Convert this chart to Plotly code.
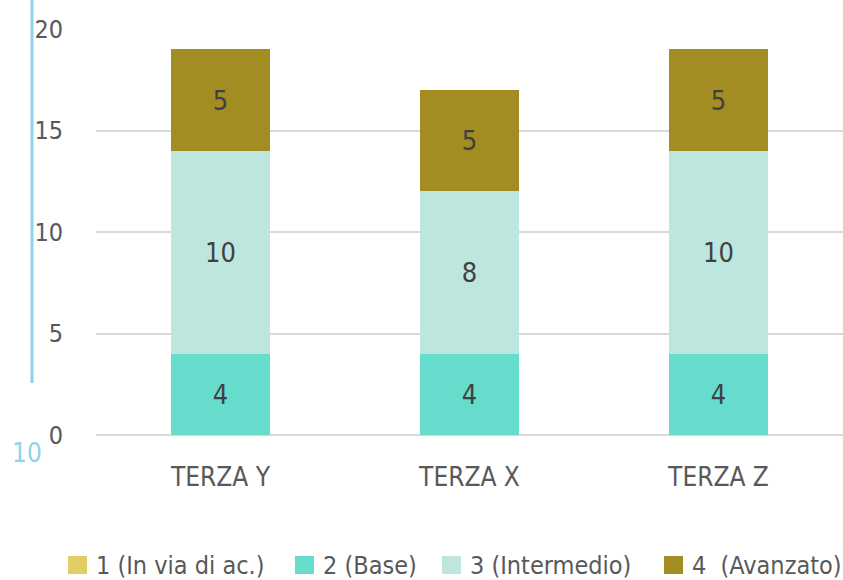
import plotly.graph_objects as go

categories = ["TERZA Y", "TERZA X", "TERZA Z"]
series_names = ["1 (In via di ac.)", "2 (Base)", "3 (Intermedio)", "4  (Avanzato)"]
s1 = [0, 0, 0]
s2 = [4, 4, 4]
s3 = [10, 8, 10]
s4 = [5, 5, 5]
y_ticks = [0, 5, 10, 15, 20]
colors = ["#E0CD63", "#66DDCC", "#BDE6DF", "#A38D22"]

FONT = "DejaVu Sans Condensed, Liberation Sans Narrow, Roboto, sans-serif"
TXT = "#595959"

# plot area geometry (pixels) used to place legend/decoration in paper coords
L, T, W, H = 96, 29, 747, 406


def px_x(px):
    return (px - L) / W


def px_y(py):
    return (T + H - py) / H


fig = go.Figure()
for name, vals, col in zip(series_names, [s1, s2, s3, s4], colors):
    fig.add_trace(go.Bar(
        x=categories, y=vals, name=name, marker=dict(color=col, line=dict(width=0)),
        text=[str(v) if v else "" for v in vals], textposition="inside",
        insidetextanchor="middle", textangle=0,
        textfont=dict(family=FONT, size=27, color="#404040"),
        hoverinfo="skip", showlegend=False,
    ))

fig.update_layout(
    barmode="stack", bargap=0.6,
    width=843, height=580,
    margin=dict(l=L, r=843 - L - W, t=T, b=580 - T - H),
    paper_bgcolor="white", plot_bgcolor="white",
    font=dict(family=FONT, color=TXT),
    uniformtext=dict(minsize=27, mode="show"),
    showlegend=False,
    xaxis=dict(showgrid=False, showline=False, ticks="", tickfont=dict(size=26, color=TXT),
               ticklabelstandoff=24, automargin=False),
    yaxis=dict(range=[0, 20], tickvals=y_ticks, showgrid=True, gridcolor="#D9D9D9", gridwidth=2,
               zeroline=True, zerolinecolor="#D9D9D9", zerolinewidth=2,
               showline=False, ticks="", tickfont=dict(size=25, color=TXT),
               ticklabelstandoff=32, automargin=False),
)

# legend (drawn manually to match the reference spacing)
legend_sq_x = [68, 295, 442, 664]
for name, col, sx in zip(series_names, colors, legend_sq_x):
    fig.add_shape(type="rect", xref="paper", yref="paper",
                  x0=px_x(sx), x1=px_x(sx + 19), y0=px_y(574), y1=px_y(556),
                  fillcolor=col, line=dict(width=0))
    fig.add_annotation(text=name, xref="paper", yref="paper", x=px_x(sx + 26), y=px_y(565),
                       xanchor="left", yanchor="middle", showarrow=False,
                       font=dict(family=FONT, size=25, color=TXT))

# decoration at the left edge
fig.add_shape(type="line", xref="paper", yref="paper", x0=px_x(32), x1=px_x(32),
              y0=px_y(383), y1=px_y(0),
              line=dict(color="#8DD3EB", width=3))
fig.add_annotation(text="10", xref="paper", yref="paper", x=px_x(44), y=px_y(453),
                   showarrow=False, font=dict(family=FONT, size=26, color="#8DD3EB"),
                   xanchor="right", yanchor="middle")

fig.write_html("out.html", config={"displayModeBar": False},
               post_script="document.body.style.margin='0';document.body.style.overflow='hidden';")
